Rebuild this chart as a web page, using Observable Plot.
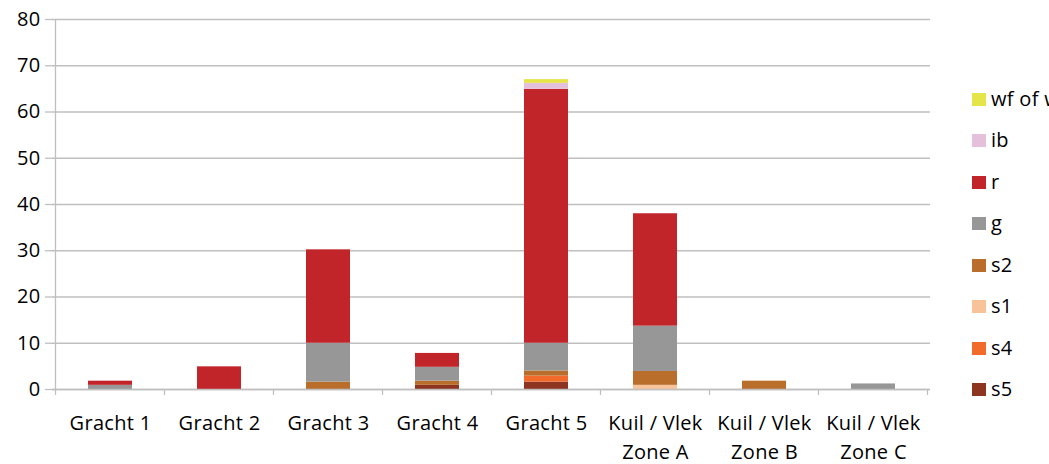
<!DOCTYPE html>
<html>
<head>
<meta charset="utf-8">
<script src="https://cdn.jsdelivr.net/npm/d3@7"></script>
<script src="https://cdn.jsdelivr.net/npm/@observablehq/plot@0.6"></script>
<style>
  html, body { margin: 0; padding: 0; background: #fff; }
  #wrap { position: relative; width: 1049px; height: 464px; overflow: hidden; font-family: "Open Sans", sans-serif; }
  #legend { position: absolute; left: 972px; top: 0; }
  .item { position: absolute; left: 0; white-space: nowrap; font-size: 20px; color: #000; letter-spacing: 0.3px; }
  .swatch { position: absolute; left: 0; width: 14px; height: 13px; }
  .label { position: absolute; left: 19px; }
</style>
</head>
<body>
<div id="wrap"><div id="legend"></div></div>
<script>
// Categories along the x axis
const categories = ["Gracht 1", "Gracht 2", "Gracht 3", "Gracht 4", "Gracht 5",
  "Kuil / Vlek\nZone A", "Kuil / Vlek\nZone B", "Kuil / Vlek\nZone C"];

// Series values per category (stacked bottom to top: s5, s4, s1, s2, g, r, ib, wf)
const s5 = [0, 0, 0, 0.9, 1.6, 0, 0, 0];
const s4 = [0, 0, 0, 0, 1.3, 0, 0, 0];
const s1 = [0, 0, 0, 0, 0, 0.9, 0, 0];
const s2 = [0, 0, 1.6, 0.9, 1.1, 3.0, 1.8, 0];
const g  = [0.9, 0, 8.4, 3.0, 6.0, 9.8, 0, 1.2];
const r  = [0.9, 4.9, 20.2, 3.0, 54.9, 24.3, 0, 0];
const ib = [0, 0, 0, 0, 1.3, 0, 0, 0];
const wf = [0, 0, 0, 0, 0.8, 0, 0, 0];

const seriesNames = ["s5", "s4", "s1", "s2", "g", "r", "ib", "wf of w"];
const seriesValues = [s5, s4, s1, s2, g, r, ib, wf];
const seriesColors = ["#8e3522", "#f26b2a", "#f9c399", "#b96e2b", "#979797", "#c1252a", "#e4c0da", "#e5e54a"];

const yTicks = [0, 10, 20, 30, 40, 50, 60, 70, 80];

// Long-format table for the stacked bars
const rows = [];
seriesNames.forEach((name, si) => {
  categories.forEach((cat, ci) => {
    rows.push({category: cat, series: name, value: seriesValues[si][ci]});
  });
});

const axisGray = "#bfbfbf";

// Category separator ticks and the vertical axis line, placed from the x/y scales
function categoryFrame() {
  return (index, scales, values, dims) => {
    const x = scales.x, y = scales.y;
    const bw = x.bandwidth();
    const step = x(categories[1]) - x(categories[0]);
    const gap = (step - bw) / 2;
    const bounds = categories.map(c => x(c) - gap);
    bounds.push(x(categories[categories.length - 1]) + bw + gap);
    const g = d3.create("svg:g").attr("stroke", axisGray).attr("stroke-width", 1.3);
    const y0 = y(0);
    for (const b of bounds) {
      g.append("line").attr("x1", b).attr("x2", b).attr("y1", y0).attr("y2", y0 + 6);
    }
    g.append("line").attr("x1", bounds[0]).attr("x2", bounds[0])
      .attr("y1", y(yTicks[yTicks.length - 1])).attr("y2", y0);
    return g.node();
  };
}

const chart = Plot.plot({
  width: 1049,
  height: 464,
  marginLeft: 52,
  marginRight: 119,
  marginTop: 19,
  marginBottom: 75,
  style: {fontFamily: "Open Sans, sans-serif", fontSize: "20px", color: "#000", background: "transparent", letterSpacing: "0.3px"},
  x: {domain: categories, paddingInner: 0.6, paddingOuter: 0.3, label: null},
  y: {domain: [0, 80], label: null},
  color: {domain: seriesNames, range: seriesColors},
  marks: [
    Plot.gridY({ticks: yTicks, stroke: axisGray, strokeOpacity: 1, strokeWidth: 1.3}),
    Plot.axisY({ticks: yTicks, tickSize: 7, tickPadding: 5, stroke: axisGray, strokeWidth: 1.3, fill: "#000", label: null}),
    Plot.axisX({tickSize: 0, tickPadding: 20, lineHeight: 1.45, fill: "#000", label: null}),
    Plot.barY(rows, {x: "category", y: "value", fill: "series", order: seriesNames}),
    Plot.ruleY([0], {stroke: axisGray, strokeWidth: 1.3}),
    categoryFrame()
  ]
});

const wrap = document.getElementById("wrap");
chart.style.position = "absolute";
chart.style.left = "0";
chart.style.top = "0";
wrap.insertBefore(chart, wrap.firstChild);

// Legend, top entry is the top of the stack
const legend = document.getElementById("legend");
const legendTop = 98.5, legendStep = 41.5;
seriesNames.slice().reverse().forEach((name, i) => {
  const color = seriesColors[seriesNames.indexOf(name)];
  const item = document.createElement("div");
  item.className = "item";
  item.style.top = (legendTop + i * legendStep - 14) + "px";
  item.innerHTML = `<div class="swatch" style="background:${color};top:8px"></div><div class="label">${name}</div>`;
  legend.appendChild(item);
});
</script>
</body>
</html>
